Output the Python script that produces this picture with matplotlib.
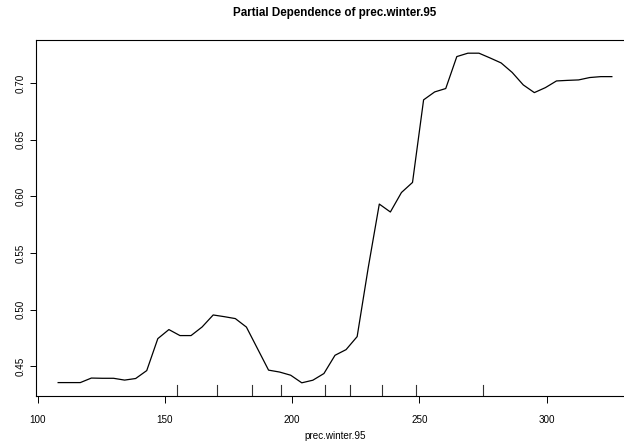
import matplotlib
matplotlib.use('Agg')
import matplotlib.pyplot as plt
import numpy as np

plt.rcParams['font.family'] = ['Liberation Sans', 'DejaVu Sans']

# grid of prec.winter.95 values (51 points, like randomForest partialPlot)
x_start = 108.1
x_step = 4.35
n_pt = 51
prec = [x_start + i * x_step for i in range(n_pt)]

# partial dependence
dep = [0.4356, 0.4356, 0.4356, 0.4396, 0.4394, 0.4394, 0.4378, 0.4392, 0.4462, 0.4744,
       0.4824, 0.4771, 0.4771, 0.4847, 0.4953, 0.4938, 0.4921, 0.4846, 0.4656, 0.4466,
       0.4449, 0.4421, 0.4354, 0.4377, 0.4436, 0.4597, 0.4647, 0.4762, 0.5370, 0.5932,
       0.5862, 0.6034, 0.6123, 0.6852, 0.6922, 0.6952, 0.7234, 0.7264, 0.7264, 0.7222,
       0.7178, 0.7094, 0.6984, 0.6916, 0.6960, 0.7019, 0.7024, 0.7028, 0.7049, 0.7057,
       0.7057]

# deciles of the data (rug)
deciles = [154.8, 170.5, 184.2, 195.5, 212.8, 222.8, 235.5, 248.6, 274.9]

xticks = [100, 150, 200, 250, 300]
yticks = [0.45, 0.50, 0.55, 0.60, 0.65, 0.70]

fig = plt.figure(figsize=(6.24, 4.45), dpi=100)
ax = fig.add_axes([36 / 624, 49 / 445, 598 / 624, 356 / 445])

ax.plot(prec, dep, color='black', lw=0.9)

# R-like 4% padding
xr = max(prec) - min(prec)
yr = max(dep) - min(dep)
ax.set_xlim(min(prec) - 0.04 * xr, max(prec) + 0.04 * xr)
ax.set_ylim(min(dep) - 0.04 * yr, max(dep) + 0.04 * yr)

# rug
for d in deciles:
    ax.axvline(d, ymin=0, ymax=0.03, color='#333333', lw=0.8)

ax.set_xticks(xticks)
ax.set_xticklabels([str(t) for t in xticks])
ax.set_yticks(yticks)
ax.set_yticklabels(['%.2f' % t for t in yticks])

ax.tick_params(axis='x', direction='out', length=5, width=0.7, pad=9, labelsize=7.1)
ax.tick_params(axis='y', direction='out', length=4.5, width=0.7, pad=3, labelsize=7.1,
               labelrotation=90)
for lab in ax.get_yticklabels():
    lab.set_va('center')

for s in ax.spines.values():
    s.set_linewidth(0.8)
    s.set_color('black')
# the box's right edge falls outside the cropped picture
ax.spines['right'].set_visible(False)

fig.text(335 / 624, 1 - 13 / 445, 'Partial Dependence of prec.winter.95',
         ha='center', va='center', fontsize=8.4, fontweight='bold')
fig.text(335 / 624, 1 - 436 / 445, 'prec.winter.95', ha='center', va='center', fontsize=7.1)

fig.savefig('out.png', dpi=100)
